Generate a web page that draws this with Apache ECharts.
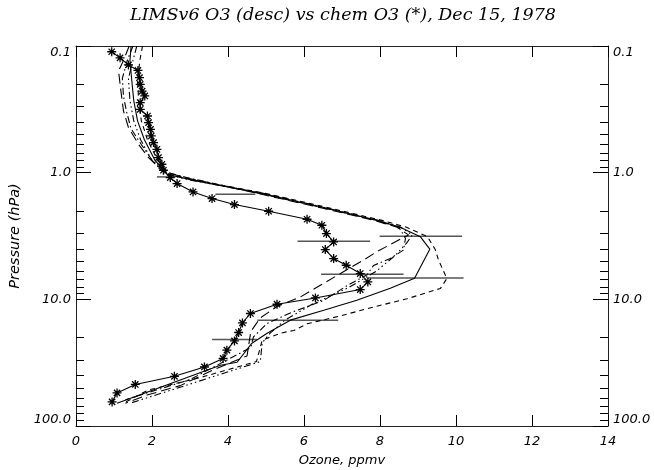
<!DOCTYPE html>
<html>
<head>
<meta charset="utf-8">
<script src="https://cdn.jsdelivr.net/npm/echarts@6/dist/echarts.min.js"></script>
<style>
html, body { margin: 0; padding: 0; background: #fff; }
#chart { width: 654px; height: 470px; }
</style>
</head>
<body>
<div id="chart"></div>
<script>
// chem O3 (asterisks), ppmv vs pressure (hPa)
var chemP = [0.111, 0.124, 0.141, 0.156, 0.178, 0.201, 0.227, 0.248, 0.280, 0.316, 0.357, 0.403,
    0.455, 0.513, 0.579, 0.654, 0.760, 0.858, 0.957, 1.093, 1.219, 1.420, 1.601, 1.786, 2.017,
    2.332, 2.601, 3.025, 3.524, 4.045, 4.764, 5.383, 6.256, 7.291, 8.368, 9.75, 10.93, 12.94,
    15.35, 18.28, 21.3, 25.2, 29.3, 34.2, 40.5, 47.0, 54.8, 64.5];
var chemO3 = [0.94, 1.16, 1.38, 1.63, 1.67, 1.69, 1.74, 1.81, 1.69, 1.69, 1.88, 1.91,
    1.96, 1.98, 2.04, 2.13, 2.17, 2.26, 2.30, 2.48, 2.66, 3.08, 3.58, 4.17, 5.07,
    6.08, 6.47, 6.59, 6.78, 6.56, 6.78, 7.11, 7.48, 7.68, 7.48, 6.30, 5.29, 4.59,
    4.38, 4.28, 4.17, 3.97, 3.87, 3.38, 2.59, 1.56, 1.08, 0.95];

// LIMSv6 descending profiles
var solidP = [0.1, 0.13, 0.19, 0.27, 0.39, 0.55, 0.80, 1.03, 1.15, 1.45, 1.91, 2.38, 2.70, 3.20,
    4.02, 6.82, 8.17, 10.16, 12.19, 14.6, 18.5, 22.2, 31.4, 33.1, 66];
var solidO3 = [1.45, 1.42, 1.47, 1.52, 1.62, 1.80, 2.08, 2.40, 3.09, 4.85, 6.60, 7.92, 8.53, 9.06,
    9.31, 8.91, 8.27, 7.39, 6.52, 5.64, 5.03, 4.63, 4.24, 3.80, 1.08];

var dashP = [0.1, 0.13, 0.19, 0.27, 0.39, 0.55, 0.80, 1.03, 1.15, 1.45, 1.91, 2.38, 2.70, 3.20,
    4.02, 4.9, 6.85, 8.2, 9.9, 11.5, 13.5, 15.6, 17.6, 18.5, 21, 31, 42, 52, 66];
var dashO3 = [1.75, 1.68, 1.62, 1.65, 1.72, 1.88, 2.15, 2.45, 3.15, 4.95, 6.7, 8.05, 8.7, 9.25,
    9.45, 9.54, 9.76, 9.59, 8.71, 7.83, 6.96, 6.08, 5.73, 5.38, 4.9, 4.75, 3.2, 1.9, 1.25];

var longP = [0.1, 0.13, 0.157, 0.213, 0.326, 0.44, 0.60, 0.76, 0.97, 1.10, 1.45, 1.91, 2.38, 2.70,
    3.10, 4.2, 4.9, 6.25, 7.75, 9.6, 11.4, 14, 18, 28, 36, 48, 57, 66];
var longO3 = [1.4, 1.25, 1.12, 1.17, 1.25, 1.38, 1.65, 1.91, 2.26, 2.9, 4.75, 6.5, 7.85, 8.45,
    8.75, 7.92, 7.57, 6.96, 6.43, 5.90, 5.29, 4.85, 4.6, 4.5, 3.62, 2.74, 1.87, 1.3];

var dotP = [0.1, 0.13, 0.18, 0.25, 0.33, 0.45, 0.60, 0.78, 0.98, 1.10, 1.45, 1.91, 2.38, 2.70,
    3.3, 4.08, 4.76, 5.4, 6.4, 7.8, 10.2, 12.8, 15.5, 19.8, 24, 43, 62];
var dotO3 = [1.5, 1.35, 1.22, 1.25, 1.33, 1.45, 1.72, 1.98, 2.32, 2.95, 4.8, 6.55, 7.9, 8.5,
    8.67, 8.62, 8.27, 7.83, 7.66, 7.13, 6.52, 5.64, 5.03, 4.67, 4.6, 3.0, 1.3];

var dot3P = [0.1, 0.13, 0.18, 0.27, 0.39, 0.55, 0.80, 1.03, 1.15, 1.45, 1.91, 2.38, 2.70, 3.1,
    3.6, 4.5, 6.0, 8.0, 11.0, 14.6, 18.5, 22, 31, 66];
var dot3O3 = [1.6, 1.5, 1.38, 1.42, 1.52, 1.70, 2.0, 2.35, 3.05, 4.9, 6.62, 7.95, 8.55, 8.85,
    8.7, 8.4, 7.9, 7.2, 6.2, 5.5, 5.11, 4.9, 4.85, 1.43];

// horizontal error bars
var barP = [1.08, 1.48, 3.18, 3.48, 6.34, 6.78, 14.6, 20.8];
var barLo = [2.13, 3.67, 7.99, 5.83, 6.45, 7.67, 4.77, 3.58];
var barHi = [2.62, 4.72, 10.16, 7.74, 8.62, 10.2, 6.9, 4.76];

// axis ticks
var pMajor = [0.1, 1, 10, 100];
var pMinor = [0.2, 0.3, 0.4, 0.5, 0.6, 0.7, 0.8, 0.9, 2, 3, 4, 5, 6, 7, 8, 9,
    20, 30, 40, 50, 60, 70, 80, 90];

function font(size) {
    return { fontFamily: 'DejaVu Sans', fontStyle: 'italic', fontSize: size || 13, color: '#000' };
}

function frameLine() {
    return { show: true, onZero: false, lineStyle: { color: '#222', width: 1 } };
}

// negative length turns the ticks into the plot area
function innerTick(len, values) {
    var t = { show: true, inside: false, length: -len, lineStyle: { color: '#000', width: 1 } };
    if (values) t.customValues = values;
    return t;
}

function pairs(o3, p) {
    return o3.map(function (v, i) { return [v, p[i]]; });
}

function profile(o3, p, dash) {
    return {
        type: 'line',
        data: pairs(o3, p),
        showSymbol: false,
        silent: true,
        lineStyle: { color: '#000', width: 1.1, type: dash },
        z: 3
    };
}

// value axes over log10(p) that only draw ticks / labels
function tickAxis(side, values, len, labels) {
    var logs = values.map(function (v) { return Math.log10(v); });
    return {
        type: 'value',
        position: side,
        min: -1,
        max: 2,
        inverse: true,
        axisLine: { show: false, onZero: false },
        splitLine: { show: false },
        axisTick: innerTick(len, logs),
        axisLabel: labels ? Object.assign({
            show: true,
            margin: 5,
            customValues: logs,
            verticalAlignMinLabel: 'top',
            verticalAlignMaxLabel: 'bottom',
            formatter: function (v) { return Math.pow(10, v).toFixed(1); }
        }, font()) : { show: false }
    };
}

function logAxis(side, withName) {
    var ax = {
        type: 'log',
        logBase: 10,
        min: 0.1, max: 100,
        inverse: true,
        position: side,
        axisLine: frameLine(),
        axisTick: { show: false },
        axisLabel: { show: false },
        splitLine: { show: false }
    };
    if (withName) {
        ax.name = 'Pressure (hPa)';
        ax.nameLocation = 'middle';
        ax.nameGap = 53;
        ax.nameTextStyle = font(14.5);
    }
    return ax;
}

var myChart = echarts.init(document.getElementById('chart'));

var option = {
    animation: false,
    backgroundColor: '#fff',
    title: {
        text: 'LIMSv6 O3 (desc) vs chem O3 (*), Dec 15, 1978',
        left: 338,
        top: 1,
        textAlign: 'center',
        textStyle: { fontFamily: 'DejaVu Serif', fontStyle: 'italic', fontWeight: 'normal', fontSize: 17.5, color: '#000' }
    },
    grid: { left: 76, right: 46, top: 46, bottom: 44, outerBoundsMode: 'none' },
    xAxis: [{
        type: 'value',
        position: 'bottom',
        min: 0, max: 14, interval: 2,
        name: 'Ozone, ppmv',
        nameLocation: 'middle',
        nameGap: 28,
        nameTextStyle: font(),
        axisLine: frameLine(),
        axisTick: innerTick(11),
        axisLabel: Object.assign({ margin: 9 }, font()),
        splitLine: { show: false }
    }, {
        type: 'value',
        position: 'top',
        min: 0, max: 14, interval: 2,
        axisLine: frameLine(),
        axisTick: innerTick(11),
        axisLabel: { show: false },
        splitLine: { show: false }
    }],
    yAxis: [
        logAxis('left', true),
        logAxis('right', false),
        tickAxis('left', pMajor, 15, true),
        tickAxis('left', pMinor, 8, false),
        tickAxis('right', pMajor, 15, true),
        tickAxis('right', pMinor, 8, false)
    ],
    series: [
        profile(solidO3, solidP, 'solid'),
        profile(dashO3, dashP, [5, 4]),
        profile(longO3, longP, [10, 5]),
        profile(dotO3, dotP, [7, 3, 1.5, 3]),
        profile(dot3O3, dot3P, [7, 3, 1.5, 3, 1.5, 3, 1.5, 3]),
        {
            type: 'line',
            data: pairs(chemO3, chemP),
            symbol: 'path://M5,0L5,10M0,5L10,5M1.5,1.5L8.5,8.5M1.5,8.5L8.5,1.5',
            symbolSize: 9,
            showAllSymbol: true,
            silent: true,
            itemStyle: { color: 'transparent', borderColor: '#000', borderWidth: 1.3 },
            lineStyle: { color: '#000', width: 1.1 },
            z: 4
        },
        {
            type: 'custom',
            silent: true,
            data: barP.map(function (p, i) { return [barLo[i], barHi[i], p]; }),
            encode: { x: [0, 1], y: 2 },
            renderItem: function (params, api) {
                var a = api.coord([api.value(0), api.value(2)]);
                var b = api.coord([api.value(1), api.value(2)]);
                return {
                    type: 'line',
                    shape: { x1: a[0], y1: a[1], x2: b[0], y2: b[1] },
                    style: { stroke: '#555', lineWidth: 1.5 }
                };
            },
            z: 2
        }
    ]
};

myChart.setOption(option);
</script>
</body>
</html>
